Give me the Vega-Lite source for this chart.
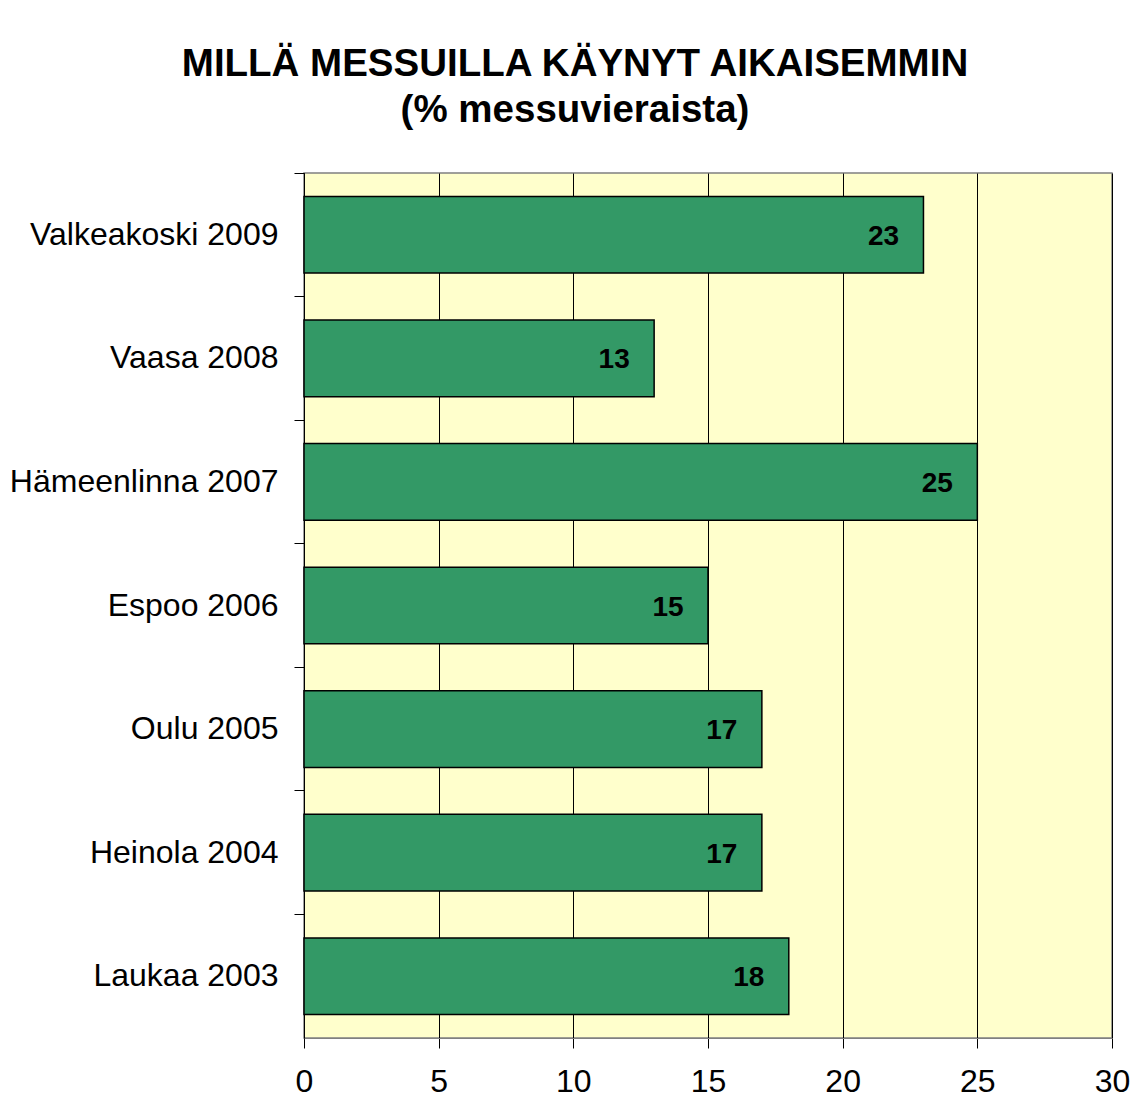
{
  "$schema": "https://vega.github.io/schema/vega-lite/v6.json",
  "autosize": {"type": "none"},
  "width": 808,
  "height": 865,
  "padding": {"left": 304, "top": 173, "right": 31, "bottom": 70},
  "background": "white",
  "title": {
    "text": ["MILLÄ MESSUILLA KÄYNYT AIKAISEMMIN", "(% messuvieraista)"],
    "font": "Liberation Sans",
    "fontSize": 38.5,
    "fontWeight": "bold",
    "color": "black",
    "anchor": "middle",
    "frame": "group",
    "dx": -133,
    "lineHeight": 46,
    "offset": 42
  },
  "data": {
    "values": [
      {"messut": "Valkeakoski 2009", "osuus": 23},
      {"messut": "Vaasa 2008", "osuus": 13},
      {"messut": "Hämeenlinna 2007", "osuus": 25},
      {"messut": "Espoo 2006", "osuus": 15},
      {"messut": "Oulu 2005", "osuus": 17},
      {"messut": "Heinola 2004", "osuus": 17},
      {"messut": "Laukaa 2003", "osuus": 18}
    ]
  },
  "encoding": {
    "y": {
      "field": "messut",
      "type": "nominal",
      "sort": null,
      "scale": {"paddingInner": 0, "paddingOuter": 0},
      "axis": {
        "title": null,
        "bandPosition": 0,
        "tickSize": 10,
        "tickColor": "black",
        "domainColor": "black",
        "labelFont": "Liberation Sans",
        "labelFontSize": 32,
        "labelColor": "black",
        "labelPadding": 16,
        "labelLimit": 400,
        "grid": false
      }
    },
    "x": {
      "field": "osuus",
      "type": "quantitative",
      "scale": {"domain": [0, 30], "nice": false},
      "axis": {
        "title": null,
        "values": [0, 5, 10, 15, 20, 25, 30],
        "tickSize": 10,
        "tickColor": "black",
        "domainColor": "#808080",
        "labelFont": "Liberation Sans",
        "labelFontSize": 32,
        "labelColor": "black",
        "labelPadding": 18,
        "labelFlush": false,
        "labelOverlap": false,
        "grid": true,
        "gridColor": "black",
        "gridOpacity": 1,
        "gridWidth": 1
      }
    }
  },
  "layer": [
    {
      "mark": {"type": "bar", "fill": "#339966", "stroke": "black", "strokeWidth": 1.5, "height": {"band": 0.62}}
    },
    {
      "mark": {"type": "text", "align": "center", "baseline": "middle", "dx": -40, "dy": 2, "font": "Liberation Sans", "fontSize": 28, "fontWeight": "bold", "color": "black"},
      "encoding": {"text": {"field": "osuus", "type": "quantitative"}}
    }
  ],
  "config": {
    "view": {"fill": "#FFFFCC", "stroke": "#808080", "strokeWidth": 1.5}
  }
}
